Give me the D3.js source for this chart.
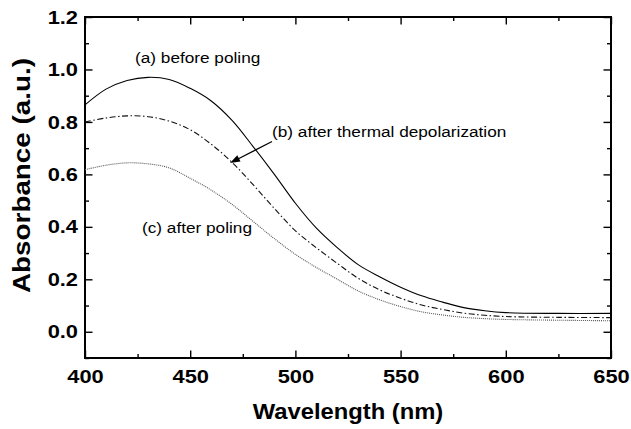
<!DOCTYPE html>
<html>
<head>
<meta charset="utf-8">
<script src="https://cdn.jsdelivr.net/npm/d3@7"></script>
<style>
  html, body { margin: 0; padding: 0; background: #fff; }
  svg { display: block; }
  text { font-family: "Liberation Sans", Arial, sans-serif; fill: #000; }
</style>
</head>
<body>
<svg id="chart" width="631" height="429"></svg>
<script>
// Absorption spectra of the film (wavelength in nm, absorbance in a.u.)
const wavelengths = [400, 410, 420, 430, 440, 450, 460, 470, 480, 490, 500, 510, 520, 530, 540, 550, 560, 570, 580, 590, 600, 625, 650];
const beforePoling = [0.865, 0.925, 0.958, 0.970, 0.962, 0.928, 0.880, 0.805, 0.705, 0.600, 0.490, 0.395, 0.320, 0.255, 0.210, 0.170, 0.137, 0.113, 0.092, 0.080, 0.073, 0.070, 0.070];
const afterDepolarization = [0.800, 0.815, 0.823, 0.820, 0.803, 0.770, 0.715, 0.645, 0.560, 0.470, 0.385, 0.320, 0.260, 0.203, 0.160, 0.128, 0.102, 0.085, 0.071, 0.063, 0.058, 0.055, 0.054];
const afterPoling = [0.618, 0.635, 0.644, 0.640, 0.625, 0.585, 0.540, 0.485, 0.420, 0.355, 0.295, 0.245, 0.200, 0.155, 0.122, 0.096, 0.076, 0.064, 0.055, 0.050, 0.047, 0.044, 0.042];

const xMajorTicks = [400, 450, 500, 550, 600, 650];
const xMinorTicks = [425, 475, 525, 575, 625];
const yMajorTicks = [0.0, 0.2, 0.4, 0.6, 0.8, 1.0, 1.2];
const yMinorTicks = [-0.1, 0.1, 0.3, 0.5, 0.7, 0.9, 1.1];

const svg = d3.select("#chart");
const plotLeft = 85, plotRight = 611, plotTop = 17, plotBottom = 358;

const x = d3.scaleLinear().domain([400, 650]).range([plotLeft, plotRight]);
const y = d3.scaleLinear().domain([-0.1, 1.2]).range([plotBottom, plotTop]);

// Widen text horizontally by a factor (glyphs are set slightly wide)
function stretch(sel, factor) {
  sel.each(function () {
    const w = this.getComputedTextLength();
    d3.select(this).attr("textLength", w * factor).attr("lengthAdjust", "spacingAndGlyphs");
  });
}

// Inward ticks on all four sides
function addAxis(axisGen, transform, major, minor, showLabels) {
  const gMaj = svg.append("g").attr("transform", transform)
    .call(axisGen.tickValues(major).tickSizeOuter(0));
  gMaj.select(".domain").remove();
  if (!showLabels) gMaj.selectAll("text").remove();
  const gMin = svg.append("g").attr("transform", transform)
    .call(axisGen.tickValues(minor).tickFormat("").tickSizeOuter(0));
  gMin.select(".domain").remove();
  gMin.selectAll("text").remove();
  return [gMaj, gMin];
}

const fmtY = d3.format(".1f");

// bottom
const [bMaj, bMin] = addAxis(d3.axisBottom(x).tickSizeInner(-7.5).tickPadding(25).tickFormat(d3.format("d")),
  `translate(0,${plotBottom})`, xMajorTicks, xMinorTicks, true);
bMin.selectAll("line").attr("y2", -4);
bMaj.selectAll("text").attr("dy", null);
// top
const [tMaj, tMin] = addAxis(d3.axisTop(x).tickSizeInner(-7.5), `translate(0,${plotTop})`, xMajorTicks, xMinorTicks, false);
tMin.selectAll("line").attr("y2", 4);
// left
const [lMaj, lMin] = addAxis(d3.axisLeft(y).tickSizeInner(-7.5).tickPadding(7).tickFormat(fmtY),
  `translate(${plotLeft},0)`, yMajorTicks, yMinorTicks, true);
lMin.selectAll("line").attr("x2", 4);
// right
const [rMaj, rMin] = addAxis(d3.axisRight(y).tickSizeInner(-7.5), `translate(${plotRight},0)`, yMajorTicks, yMinorTicks, false);
rMin.selectAll("line").attr("x2", -4);

svg.selectAll(".tick line").attr("stroke", "#000").attr("stroke-width", 1.4);
svg.selectAll(".tick text")
  .style("font-family", "'Liberation Sans', Arial, sans-serif")
  .style("font-size", "19px").style("font-weight", "bold").attr("fill", "#000")
  .call(stretch, 1.15);

// frame
svg.append("rect")
  .attr("x", plotLeft).attr("y", plotTop)
  .attr("width", plotRight - plotLeft).attr("height", plotBottom - plotTop)
  .attr("fill", "none").attr("stroke", "#000").attr("stroke-width", 2);

// curves
const line = d3.line()
  .x((d, i) => x(wavelengths[i]))
  .y(d => y(d))
  .curve(d3.curveCatmullRom.alpha(0.5));

svg.append("path").datum(beforePoling)
  .attr("d", line).attr("fill", "none").attr("stroke", "#000").attr("stroke-width", 1.1);
svg.append("path").datum(afterDepolarization)
  .attr("d", line).attr("fill", "none").attr("stroke", "#111").attr("stroke-width", 1.1)
  .attr("stroke-dasharray", "6,2.5,1.5,2.5");
svg.append("path").datum(afterPoling)
  .attr("d", line).attr("fill", "none").attr("stroke", "#555").attr("stroke-width", 1.1)
  .attr("stroke-dasharray", "1,1");

// annotations
const annot = svg.append("g").style("font-size", "15.5px");
annot.append("text").attr("x", 135).attr("y", 63).text("(a) before poling");
annot.append("text").attr("x", 272).attr("y", 137).text("(b) after thermal depolarization");
annot.append("text").attr("x", 142).attr("y", 233).text("(c) after poling");
annot.selectAll("text").call(stretch, 1.11);

// arrow pointing at curve (b)
const ax1 = 272, ay1 = 141.5, ax2 = 230, ay2 = 163;
svg.append("line").attr("x1", ax1).attr("y1", ay1).attr("x2", ax2 + 6).attr("y2", ay2 - 3)
  .attr("stroke", "#000").attr("stroke-width", 1.2);
const ang = Math.atan2(ay2 - ay1, ax2 - ax1);
const hl = 10, hw = 3.5;
const bx = ax2 - hl * Math.cos(ang), by = ay2 - hl * Math.sin(ang);
svg.append("path")
  .attr("d", `M${ax2},${ay2} L${bx + hw * Math.sin(ang)},${by - hw * Math.cos(ang)} L${bx - hw * Math.sin(ang)},${by + hw * Math.cos(ang)} Z`)
  .attr("fill", "#000");

// axis titles
svg.append("text")
  .attr("x", (plotLeft + plotRight) / 2).attr("y", 419)
  .attr("text-anchor", "middle")
  .style("font-size", "22px").style("font-weight", "bold")
  .text("Wavelength (nm)")
  .call(stretch, 1.08);
svg.append("text")
  .attr("transform", "translate(30,175.5) rotate(-90)")
  .attr("text-anchor", "middle")
  .style("font-size", "23px").style("font-weight", "bold")
  .text("Absorbance (a.u.)")
  .attr("textLength", 235).attr("lengthAdjust", "spacingAndGlyphs");
</script>
</body>
</html>
